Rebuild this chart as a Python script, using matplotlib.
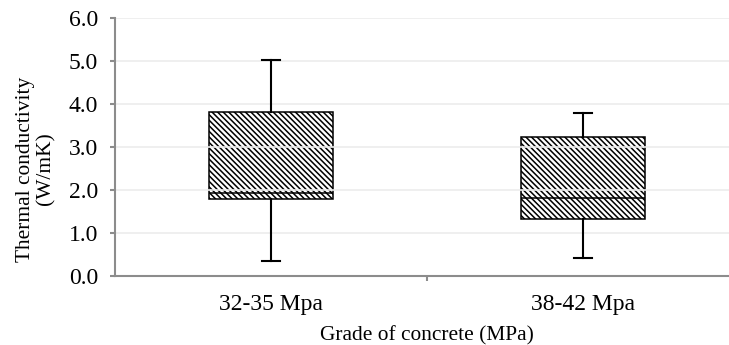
# -*- coding: utf-8 -*-

import matplotlib
matplotlib.use('Agg')
import matplotlib.pyplot as plt
from matplotlib import ticker

# box plot summary values (W/mK)
grades = ['32-35 Mpa', '38-42 Mpa']
whis_lo = [0.36, 0.42]
q1 = [1.78, 1.33]
median = [1.92, 1.81]
q3 = [3.82, 3.23]
whis_hi = [5.03, 3.78]
ytick_vals = [0.0, 1.0, 2.0, 3.0, 4.0, 5.0, 6.0]


def main():
    plt.rcParams['font.family'] = ['Liberation Serif', 'DejaVu Serif']
    plt.rcParams['hatch.linewidth'] = 1.1
    plt.rcParams['hatch.color'] = 'black'
    tick_size = 17
    label_size = 15.4

    fig = plt.figure(figsize=(7.29, 3.45), dpi=100)
    w_px, h_px = 729.0, 345.0
    left, right = 115 / w_px, 739 / w_px
    bottom, top = (h_px - 276) / h_px, (h_px - 18) / h_px
    ax = fig.add_axes([left, bottom, right - left, top - bottom])

    stats = []
    for i, name in enumerate(grades):
        stats.append(dict(label=name, whislo=whis_lo[i], q1=q1[i], med=median[i],
                          q3=q3[i], whishi=whis_hi[i], fliers=[]))

    ax.bxp(stats, positions=[0, 1], widths=0.4, capwidths=0.055, patch_artist=True,
           showfliers=False,
           boxprops=dict(facecolor='white', edgecolor='black', linewidth=1.1,
                         hatch='\\\\\\\\\\\\', zorder=1),
           medianprops=dict(color='black', linewidth=1.1),
           whiskerprops=dict(color='black', linewidth=1.5),
           capprops=dict(color='black', linewidth=1.5))

    ax.set_xlim(-0.5, 1.5)
    ax.set_ylim(0, 6)
    ax.set_axisbelow('line')
    ax.yaxis.grid(True, color='#ececec', linewidth=1.2)
    ax.xaxis.grid(False)

    ax.set_yticks(ytick_vals)
    ax.yaxis.set_major_formatter(ticker.FormatStrFormatter('%.1f'))
    ax.set_xticks([0, 1])
    ax.set_xticklabels(grades)
    ax.xaxis.set_minor_locator(ticker.FixedLocator([0.5]))

    for side in ['top', 'right']:
        ax.spines[side].set_visible(False)
    for side in ['left', 'bottom']:
        ax.spines[side].set_color('#8c8c8c')
        ax.spines[side].set_linewidth(1.5)

    ax.tick_params(axis='y', which='major', direction='out', length=3.6, width=1.5,
                   color='#8c8c8c', pad=8.6, labelsize=tick_size)
    ax.tick_params(axis='x', which='major', length=0, pad=13.0, labelsize=tick_size)
    ax.tick_params(axis='x', which='minor', direction='out', length=3.6, width=1.5,
                   color='#8c8c8c')

    ax.set_ylabel('Thermal conductivity\n(W/mK)', fontsize=label_size, linespacing=1.1)
    ax.yaxis.set_label_coords(-0.095, 0.415)
    ax.set_xlabel('Grade of concrete (MPa)', fontsize=label_size, va='top')
    ax.xaxis.set_label_coords(0.5, -0.193)

    fig.savefig('out.png', dpi=100)


if __name__ == '__main__':
    main()
